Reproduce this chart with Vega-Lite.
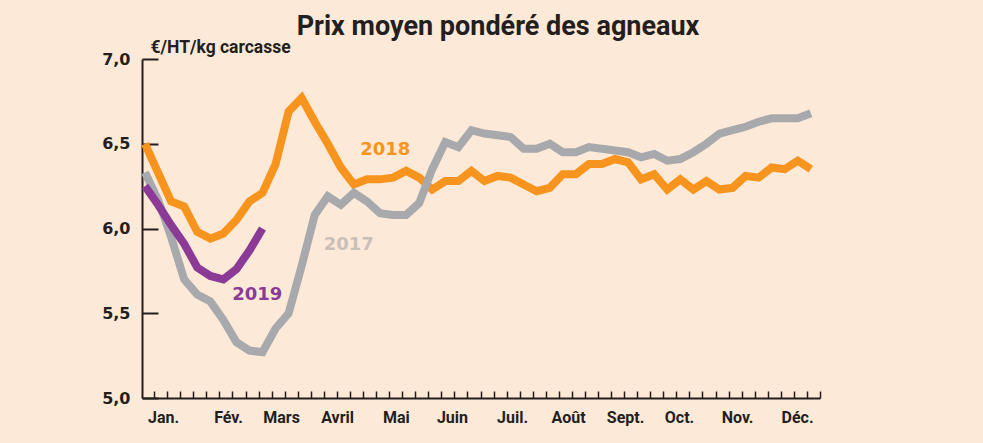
{
  "$schema": "https://vega.github.io/schema/vega-lite/v6.json",
  "width": 678,
  "height": 339,
  "autosize": {"type": "none"},
  "padding": {"left": 142, "top": 59, "right": 163, "bottom": 45},
  "background": "#FDE9D8",
  "config": {"view": {"stroke": null}},
  "title": {"text": "Prix moyen pondéré des agneaux", "font": "Roboto", "fontSize": 27, "fontWeight": "bold", "color": "#231F20", "anchor": "middle", "dx": 17, "offset": -24, "baseline": "alphabetic", "frame": "group"},
  "datasets": {
    "prix": [
      {"year": "2018", "week": 1, "price": 6.50}, {"year": "2018", "week": 2, "price": 6.33}, {"year": "2018", "week": 3, "price": 6.16}, {"year": "2018", "week": 4, "price": 6.13},
      {"year": "2018", "week": 5, "price": 5.98}, {"year": "2018", "week": 6, "price": 5.94}, {"year": "2018", "week": 7, "price": 5.97}, {"year": "2018", "week": 8, "price": 6.05},
      {"year": "2018", "week": 9, "price": 6.16}, {"year": "2018", "week": 10, "price": 6.21}, {"year": "2018", "week": 11, "price": 6.38}, {"year": "2018", "week": 12, "price": 6.69},
      {"year": "2018", "week": 13, "price": 6.77}, {"year": "2018", "week": 14, "price": 6.63}, {"year": "2018", "week": 15, "price": 6.50}, {"year": "2018", "week": 16, "price": 6.36},
      {"year": "2018", "week": 17, "price": 6.26}, {"year": "2018", "week": 18, "price": 6.29}, {"year": "2018", "week": 19, "price": 6.29}, {"year": "2018", "week": 20, "price": 6.30},
      {"year": "2018", "week": 21, "price": 6.34}, {"year": "2018", "week": 22, "price": 6.30}, {"year": "2018", "week": 23, "price": 6.23}, {"year": "2018", "week": 24, "price": 6.28},
      {"year": "2018", "week": 25, "price": 6.28}, {"year": "2018", "week": 26, "price": 6.34}, {"year": "2018", "week": 27, "price": 6.28}, {"year": "2018", "week": 28, "price": 6.31},
      {"year": "2018", "week": 29, "price": 6.30}, {"year": "2018", "week": 30, "price": 6.26}, {"year": "2018", "week": 31, "price": 6.22}, {"year": "2018", "week": 32, "price": 6.24},
      {"year": "2018", "week": 33, "price": 6.32}, {"year": "2018", "week": 34, "price": 6.32}, {"year": "2018", "week": 35, "price": 6.38}, {"year": "2018", "week": 36, "price": 6.38},
      {"year": "2018", "week": 37, "price": 6.41}, {"year": "2018", "week": 38, "price": 6.39}, {"year": "2018", "week": 39, "price": 6.29}, {"year": "2018", "week": 40, "price": 6.32},
      {"year": "2018", "week": 41, "price": 6.23}, {"year": "2018", "week": 42, "price": 6.29}, {"year": "2018", "week": 43, "price": 6.23}, {"year": "2018", "week": 44, "price": 6.28},
      {"year": "2018", "week": 45, "price": 6.23}, {"year": "2018", "week": 46, "price": 6.24}, {"year": "2018", "week": 47, "price": 6.31}, {"year": "2018", "week": 48, "price": 6.30},
      {"year": "2018", "week": 49, "price": 6.36}, {"year": "2018", "week": 50, "price": 6.35}, {"year": "2018", "week": 51, "price": 6.40}, {"year": "2018", "week": 52, "price": 6.35},
      {"year": "2017", "week": 1, "price": 6.33}, {"year": "2017", "week": 2, "price": 6.17}, {"year": "2017", "week": 3, "price": 5.95}, {"year": "2017", "week": 4, "price": 5.70},
      {"year": "2017", "week": 5, "price": 5.61}, {"year": "2017", "week": 6, "price": 5.57}, {"year": "2017", "week": 7, "price": 5.46}, {"year": "2017", "week": 8, "price": 5.33},
      {"year": "2017", "week": 9, "price": 5.28}, {"year": "2017", "week": 10, "price": 5.27}, {"year": "2017", "week": 11, "price": 5.41}, {"year": "2017", "week": 12, "price": 5.50},
      {"year": "2017", "week": 13, "price": 5.78}, {"year": "2017", "week": 14, "price": 6.08}, {"year": "2017", "week": 15, "price": 6.19}, {"year": "2017", "week": 16, "price": 6.14},
      {"year": "2017", "week": 17, "price": 6.21}, {"year": "2017", "week": 18, "price": 6.16}, {"year": "2017", "week": 19, "price": 6.09}, {"year": "2017", "week": 20, "price": 6.08},
      {"year": "2017", "week": 21, "price": 6.08}, {"year": "2017", "week": 22, "price": 6.15}, {"year": "2017", "week": 23, "price": 6.35}, {"year": "2017", "week": 24, "price": 6.51},
      {"year": "2017", "week": 25, "price": 6.48}, {"year": "2017", "week": 26, "price": 6.58}, {"year": "2017", "week": 27, "price": 6.56}, {"year": "2017", "week": 28, "price": 6.55},
      {"year": "2017", "week": 29, "price": 6.54}, {"year": "2017", "week": 30, "price": 6.47}, {"year": "2017", "week": 31, "price": 6.47}, {"year": "2017", "week": 32, "price": 6.50},
      {"year": "2017", "week": 33, "price": 6.45}, {"year": "2017", "week": 34, "price": 6.45}, {"year": "2017", "week": 35, "price": 6.48}, {"year": "2017", "week": 36, "price": 6.47},
      {"year": "2017", "week": 37, "price": 6.46}, {"year": "2017", "week": 38, "price": 6.45}, {"year": "2017", "week": 39, "price": 6.42}, {"year": "2017", "week": 40, "price": 6.44},
      {"year": "2017", "week": 41, "price": 6.40}, {"year": "2017", "week": 42, "price": 6.41}, {"year": "2017", "week": 43, "price": 6.45}, {"year": "2017", "week": 44, "price": 6.50},
      {"year": "2017", "week": 45, "price": 6.56}, {"year": "2017", "week": 46, "price": 6.58}, {"year": "2017", "week": 47, "price": 6.60}, {"year": "2017", "week": 48, "price": 6.63},
      {"year": "2017", "week": 49, "price": 6.65}, {"year": "2017", "week": 50, "price": 6.65}, {"year": "2017", "week": 51, "price": 6.65}, {"year": "2017", "week": 52, "price": 6.68},
      {"year": "2019", "week": 1, "price": 6.25}, {"year": "2019", "week": 2, "price": 6.14}, {"year": "2019", "week": 3, "price": 6.02}, {"year": "2019", "week": 4, "price": 5.91},
      {"year": "2019", "week": 5, "price": 5.77}, {"year": "2019", "week": 6, "price": 5.72}, {"year": "2019", "week": 7, "price": 5.70}, {"year": "2019", "week": 8, "price": 5.76},
      {"year": "2019", "week": 9, "price": 5.87}, {"year": "2019", "week": 10, "price": 6.00}
    ],
    "labels": [
      {"year": "2018", "week": 19.4, "price": 6.463},
      {"year": "2017", "week": 16.6, "price": 5.90},
      {"year": "2019", "week": 9.6, "price": 5.61}
    ]
  },
  "encoding": {
    "x": {"field": "week", "type": "quantitative", "scale": {"domain": [0.77, 52.7], "nice": false, "zero": false}, "axis": null},
    "y": {
      "field": "price", "type": "quantitative",
      "scale": {"domain": [5, 7], "nice": false, "zero": false},
      "axis": {
        "values": [5, 5.5, 6, 6.5, 7],
        "labelExpr": "replace(format(datum.value, '.1f'), '.', ',')",
        "grid": false,
        "domain": true, "domainColor": "#231F20", "domainWidth": 2,
        "ticks": true, "tickSize": -16, "tickWidth": 2, "tickColor": "#231F20",
        "labelFont": "DejaVu Sans", "labelFontWeight": "bold", "labelFontSize": 16, "labelColor": "#231F20",
        "labelPadding": 28, "labelBaseline": "middle",
        "title": "€/HT/kg carcasse", "titleAngle": 0, "titleX": 8, "titleY": -7,
        "titleAlign": "left", "titleBaseline": "alphabetic",
        "titleFont": "Roboto", "titleFontSize": 17.5, "titleFontWeight": "bold", "titleColor": "#231F20"
      }
    }
  },
  "layer": [
    {
      "data": {"name": "prix"},
      "transform": [{"filter": "datum.year == '2018'"}],
      "mark": {"type": "line", "color": "#F7941D", "strokeWidth": 8, "strokeJoin": "miter", "strokeCap": "butt"},
      "encoding": {
        "x": {
          "field": "week", "type": "quantitative",
          "scale": {"domain": [0.77, 52.7], "nice": false, "zero": false},
          "axis": {
            "orient": "bottom",
            "values": [1.7, 2.7, 3.7, 4.7, 5.7, 6.7, 7.7, 8.7, 9.7, 10.7, 11.7, 12.7, 13.7, 14.7, 15.7, 16.7, 17.7, 18.7, 19.7, 20.7, 21.7, 22.7, 23.7, 24.7, 25.7, 26.7, 27.7, 28.7, 29.7, 30.7, 31.7, 32.7, 33.7, 34.7, 35.7, 36.7, 37.7, 38.7, 39.7, 40.7, 41.7, 42.7, 43.7, 44.7, 45.7, 46.7, 47.7, 48.7, 49.7, 50.7, 51.7, 52.7],
            "labels": false, "grid": false, "title": null,
            "ticks": true, "tickSize": -7, "tickWidth": 1.5, "tickColor": "#231F20",
            "domain": true, "domainColor": "#231F20", "domainWidth": 2
          }
        }
      }
    },
    {
      "data": {"name": "prix"},
      "transform": [{"filter": "datum.year == '2017'"}],
      "mark": {"type": "line", "color": "#A7A9AC", "strokeWidth": 8, "strokeJoin": "miter", "strokeCap": "butt"}
    },
    {
      "data": {"name": "prix"},
      "transform": [{"filter": "datum.year == '2019'"}],
      "mark": {"type": "line", "color": "#8B3A96", "strokeWidth": 8, "strokeJoin": "miter", "strokeCap": "butt"}
    },
    {
      "data": {"name": "labels"},
      "mark": {"type": "text", "font": "DejaVu Sans", "fontWeight": "bold", "fontSize": 18, "align": "center", "baseline": "middle"},
      "encoding": {
        "x": {
          "field": "week", "type": "quantitative",
          "scale": {"domain": [0.77, 52.7], "nice": false, "zero": false},
          "axis": {
            "orient": "bottom",
            "values": [2.38, 7.36, 11.42, 15.71, 20.22, 24.51, 29.11, 33.4, 37.77, 41.9, 46.35, 50.94],
            "labelExpr": "datum.value < 4 ? 'Jan.' : datum.value < 9 ? 'Fév.' : datum.value < 13 ? 'Mars' : datum.value < 17 ? 'Avril' : datum.value < 22 ? 'Mai' : datum.value < 26 ? 'Juin' : datum.value < 31 ? 'Juil.' : datum.value < 35 ? 'Août' : datum.value < 39 ? 'Sept.' : datum.value < 44 ? 'Oct.' : datum.value < 48 ? 'Nov.' : 'Déc.'",
            "ticks": false, "domain": false, "grid": false, "title": null,
            "labelFont": "Roboto", "labelFontWeight": "bold", "labelFontSize": 16, "labelColor": "#231F20",
            "labelPadding": 11, "labelBaseline": "top", "labelFlush": false, "labelOverlap": false
          }
        },
        "text": {"field": "year", "type": "nominal"},
        "color": {"field": "year", "type": "nominal", "scale": {"domain": ["2017", "2018", "2019"], "range": ["#C9C0B8", "#F7941D", "#8B3A96"]}, "legend": null}
      }
    }
  ],
  "resolve": {"axis": {"x": "independent"}}
}
